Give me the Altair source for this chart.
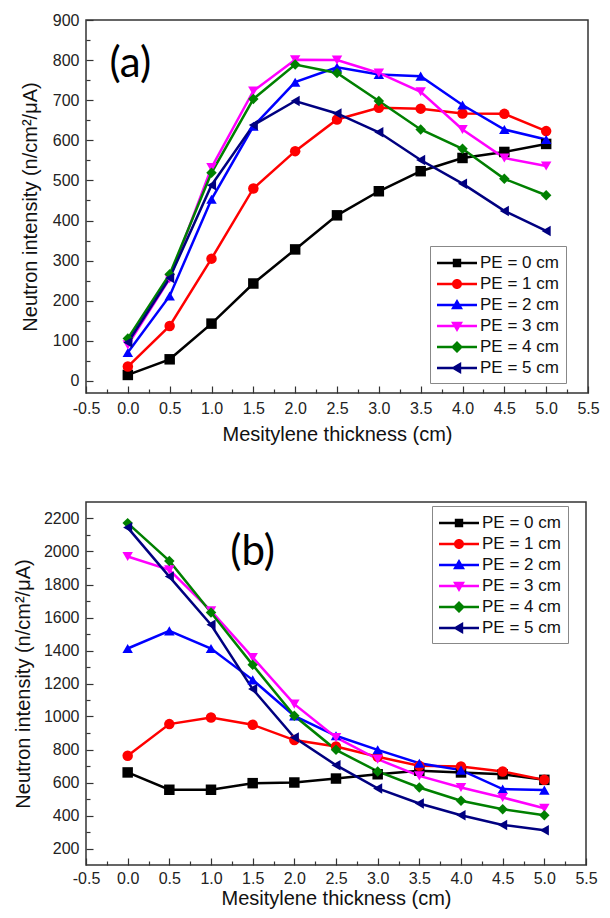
import altair as alt
import pandas as pd

# ---------------- data ----------------
x_vals = [0.0, 0.5, 1.0, 1.5, 2.0, 2.5, 3.0, 3.5, 4.0, 4.5, 5.0]
series = ["PE = 0 cm", "PE = 1 cm", "PE = 2 cm", "PE = 3 cm", "PE = 4 cm", "PE = 5 cm"]

# panel (a)
a_pe0 = [15, 54, 143, 243, 328, 413, 473, 523, 556, 571, 591]
a_pe1 = [36, 137, 305, 480, 573, 652, 681, 679, 667, 666, 623]
a_pe2 = [71, 212, 453, 635, 745, 782, 764, 760, 688, 627, 602]
a_pe3 = [90, 255, 532, 723, 801, 800, 768, 721, 627, 556, 536]
a_pe4 = [106, 266, 519, 703, 789, 768, 698, 627, 579, 504, 463]
a_pe5 = [96, 257, 488, 638, 698, 667, 620, 551, 492, 424, 374]

# panel (b)
b_pe0 = [661, 556, 556, 596, 600, 624, 650, 671, 661, 650, 616]
b_pe1 = [762, 954, 994, 950, 857, 818, 756, 701, 697, 667, 616]
b_pe2 = [1412, 1519, 1412, 1222, 1004, 883, 798, 717, 675, 560, 554]
b_pe3 = [1970, 1889, 1640, 1358, 1075, 873, 741, 640, 570, 509, 444]
b_pe4 = [2172, 1943, 1630, 1313, 1004, 798, 667, 570, 489, 438, 402]
b_pe5 = [2145, 1848, 1556, 1166, 873, 705, 564, 473, 402, 343, 311]

x_major = [-0.5, 0.0, 0.5, 1.0, 1.5, 2.0, 2.5, 3.0, 3.5, 4.0, 4.5, 5.0, 5.5]
x_minor = [-0.25, 0.25, 0.75, 1.25, 1.75, 2.25, 2.75, 3.25, 3.75, 4.25, 4.75, 5.25]
a_y_major = [0, 100, 200, 300, 400, 500, 600, 700, 800, 900]
a_y_minor = [50, 150, 250, 350, 450, 550, 650, 750, 850]
b_y_major = [200, 400, 600, 800, 1000, 1200, 1400, 1600, 1800, 2000, 2200]
b_y_minor = [300, 500, 700, 900, 1100, 1300, 1500, 1700, 1900, 2100]

colors = ["#000000", "#FF0000", "#0000FF", "#FF00FF", "#008000", "#000080"]
shapes = ["square", "circle", "triangle-up", "triangle-down", "diamond", "triangle-left"]
# legend symbols: a short line with the marker in the middle
LINE = "M-1,-0.13H3V0.13H-1Z"
legend_shapes = [
    LINE + "M0.58,-0.42H1.42V0.42H0.58Z",
    LINE + "M0.5,0A0.5,0.5,0,1,1,1.5,0A0.5,0.5,0,1,1,0.5,0Z",
    LINE + "M1,-0.6L1.6,0.42L0.4,0.42Z",
    LINE + "M0.4,-0.42L1.6,-0.42L1,0.6Z",
    LINE + "M1,-0.6L1.6,0L1,0.6L0.4,0Z",
    LINE + "M0.4,0L1.42,-0.6L1.42,0.6Z",
]

FONT = "Liberation Sans"
X_TITLE = "Mesitylene thickness (cm)"
Y_TITLE = "Neutron intensity (n/cm²/μA)"


def make_df(cols):
    rows = []
    for name, vals in zip(series, cols):
        for xv, yv in zip(x_vals, vals):
            rows.append({"x": xv, "y": yv, "series": name})
    return pd.DataFrame(rows)


def panel(df, ydom, ymaj, ymin, W, H, tag, tag_x, tag_y, leg_x, leg_y,
          y_title_pad, x_label_pad, x_title_pad):
    xs = alt.Scale(domain=[-0.5, 5.5], nice=False, zero=False)
    ys = alt.Scale(domain=ydom, nice=False, zero=False)
    cscale = alt.Scale(domain=series, range=colors)
    lab_expr = ("datum.value < 0 ? '-' + format(-datum.value, '.1f') : "
                "format(datum.value, '.1f')")

    lines = alt.Chart(df).mark_line(strokeWidth=2.5).encode(
        x=alt.X("x:Q", scale=xs, axis=alt.Axis(
            title=X_TITLE, values=x_major, labelExpr=lab_expr, ticks=False,
            domain=False, grid=False, labelFlush=False, labelPadding=x_label_pad,
            titlePadding=x_title_pad, labelFontSize=16, titleFontSize=20,
            labelFont=FONT, titleFont=FONT, titleFontWeight="normal",
            labelColor="#222", titleColor="#111")),
        y=alt.Y("y:Q", scale=ys, axis=alt.Axis(
            title=Y_TITLE, values=ymaj, format="d", ticks=False, domain=False,
            grid=False, labelFlush=False, labelPadding=7, titlePadding=y_title_pad,
            labelFontSize=16, titleFontSize=20, labelFont=FONT, titleFont=FONT,
            titleFontWeight="normal", labelColor="#222", titleColor="#111")),
        color=alt.Color("series:N", scale=cscale, legend=None),
        order="x:Q",
    )

    points = alt.Chart(df).mark_point(filled=True, size=110, opacity=1).encode(
        x=alt.X("x:Q", scale=xs, axis=alt.Axis(
            orient="top", offset=-H, values=x_major, labels=False, title=None,
            domain=False, grid=False, tickSize=7, tickColor="#333", tickWidth=1.2)),
        y=alt.Y("y:Q", scale=ys, axis=alt.Axis(
            orient="right", offset=-W, values=ymaj, labels=False, title=None,
            domain=False, grid=False, tickSize=7, tickColor="#333", tickWidth=1.2)),
        color=alt.Color("series:N", scale=cscale, legend=None),
        shape=alt.Shape("series:N", scale=alt.Scale(domain=series, range=shapes),
                        legend=None),
    )

    leg = alt.Legend(
        title=None, orient="none", legendX=leg_x, legendY=leg_y,
        symbolSize=400, symbolStrokeWidth=0, labelFontSize=17,
        labelFont=FONT, labelColor="#111", strokeColor="#888",
        fillColor="white", padding=7, rowPadding=3, labelOffset=23)

    legend_layer = alt.Chart(df).mark_point(filled=True, opacity=1).encode(
        x=alt.X("x:Q", scale=xs, axis=alt.Axis(
            orient="top", offset=-H, values=x_minor, labels=False, title=None,
            domain=False, grid=False, tickSize=4, tickColor="#333", tickWidth=1.2)),
        y=alt.Y("y:Q", scale=ys, axis=alt.Axis(
            orient="right", offset=-W, values=ymin, labels=False, title=None,
            domain=False, grid=False, tickSize=4, tickColor="#333", tickWidth=1.2)),
        color=alt.Color("series:N", scale=cscale, legend=leg),
        shape=alt.Shape("series:N", scale=alt.Scale(domain=series, range=legend_shapes),
                        legend=leg),
    ).transform_filter("false")

    tag_df = pd.DataFrame({"x": [tag_x], "y": [tag_y], "t": [tag]})
    tag_layer = alt.Chart(tag_df).mark_text(
        fontSize=42, font="Lato", align="center", baseline="middle", color="#000"
    ).encode(x=alt.X("x:Q", scale=xs, axis=None),
             y=alt.Y("y:Q", scale=ys, axis=None), text="t:N")

    return alt.layer(lines, points, legend_layer, tag_layer).resolve_scale(
        color="independent", shape="independent"
    ).resolve_axis(x="independent", y="independent").properties(width=W, height=H)


top = panel(make_df([a_pe0, a_pe1, a_pe2, a_pe3, a_pe4, a_pe5]),
            [-30, 900], a_y_major, a_y_minor, 502, 373,
            "(a)", 0.03, 790, 344, 226, 12, 7, 8)
bottom = panel(make_df([b_pe0, b_pe1, b_pe2, b_pe3, b_pe4, b_pe5]),
               [100, 2300], b_y_major, b_y_minor, 500, 363,
               "(b)", 1.5, 2000, 346, 4, 10, 5, 2)

chart = alt.concat(top, bottom, columns=1, spacing=56, align="none").properties(
    padding={"left": 12, "top": 11, "right": 10, "bottom": 2},
    background="white",
).configure_view(stroke="#333", strokeWidth=1.5)

chart.save("out.html", embed_options={"renderer": "svg", "actions": False})
